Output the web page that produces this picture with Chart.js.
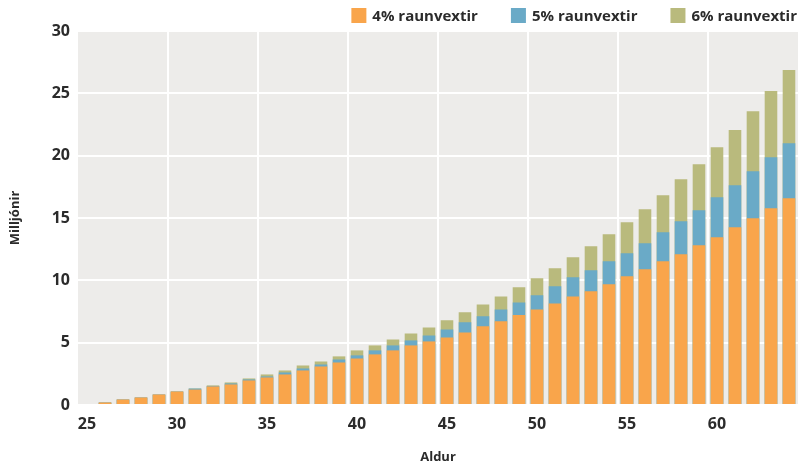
<!DOCTYPE html>
<html>
<head>
<meta charset="utf-8">
<script src="https://cdn.jsdelivr.net/npm/chart.js@4.4.1/dist/chart.umd.min.js"></script>
<style>
  html, body { margin: 0; padding: 0; background: #fff; }
  #wrap { width: 799px; height: 467px; }
</style>
</head>
<body>
<div id="wrap"><canvas id="savingsChart"></canvas></div>
<script>
// Ages on the x axis
var ages = [];
for (var a = 25; a <= 64; a++) ages.push(a);

// Accumulated savings in millions at each age, per real interest rate
var rate4 = [0, 0.2, 0.44, 0.6, 0.84, 1.08, 1.24, 1.49, 1.65, 1.97,
  2.21, 2.45, 2.77, 3.09, 3.41, 3.73, 4.06, 4.38, 4.78, 5.1,
  5.42, 5.82, 6.31, 6.71, 7.21, 7.67, 8.15, 8.71, 9.12, 9.68,
  10.32, 10.88, 11.53, 12.09, 12.81, 13.45, 14.26, 14.98, 15.78, 16.59];
var rate5 = [0, 0.2, 0.44, 0.6, 0.84, 1.08, 1.32, 1.53, 1.73, 2.05,
  2.29, 2.61, 2.93, 3.25, 3.65, 3.98, 4.38, 4.78, 5.18, 5.58,
  6.06, 6.63, 7.11, 7.67, 8.23, 8.8, 9.52, 10.24, 10.8, 11.53,
  12.17, 12.97, 13.86, 14.74, 15.62, 16.67, 17.63, 18.76, 19.88, 21.0];
var rate6 = [0, 0.2, 0.44, 0.6, 0.84, 1.08, 1.32, 1.57, 1.81, 2.13,
  2.45, 2.77, 3.17, 3.49, 3.9, 4.38, 4.78, 5.26, 5.74, 6.22,
  6.79, 7.43, 8.07, 8.71, 9.44, 10.16, 10.96, 11.85, 12.73, 13.69,
  14.66, 15.7, 16.83, 18.11, 19.32, 20.68, 22.05, 23.57, 25.18, 26.87];

var seriesLabels = ["4% raunvextir", "5% raunvextir", "6% raunvextir"];
var yTicks = [0, 5, 10, 15, 20, 25, 30];

var fontFamily = "'Open Sans', 'Noto Sans', sans-serif";
var textColor = "#2b2b2b";

// grey panel behind the bars
var plotBackground = {
  id: "plotBackground",
  beforeDraw: function (chart) {
    var c = chart.ctx, area = chart.chartArea;
    c.save();
    c.fillStyle = "#edecea";
    c.fillRect(area.left, area.top, area.right - area.left, area.bottom - area.top);
    c.restore();
  }
};

// legend row in the top right corner, laid out right to left
var topLegend = {
  id: "topLegend",
  afterDraw: function (chart) {
    var c = chart.ctx;
    var sets = chart.data.datasets;
    var box = 15, gap = 6, spacing = 33, y = 8;
    var x = chart.width - 2;
    c.save();
    c.font = "bold 15px " + fontFamily;
    c.textBaseline = "middle";
    c.textAlign = "left";
    for (var i = sets.length - 1; i >= 0; i--) {
      var w = c.measureText(sets[i].label).width;
      var tx = x - w;
      var bx = tx - gap - box;
      c.fillStyle = sets[i].backgroundColor;
      c.fillRect(bx, y, box, box);
      c.fillStyle = textColor;
      c.fillText(sets[i].label, tx, y + box / 2 + 1);
      x = bx - spacing;
    }
    c.restore();
  }
};

document.addEventListener("DOMContentLoaded", function () {
  var ctx = document.getElementById("savingsChart").getContext("2d");
  var savingsChart = new Chart(ctx, {
    type: "bar",
    data: {
      labels: ages,
      datasets: [
        { label: seriesLabels[0], data: rate4, backgroundColor: "#f9a54b" },
        { label: seriesLabels[1], data: rate5, backgroundColor: "#6aaac7" },
        { label: seriesLabels[2], data: rate6, backgroundColor: "#b9ba7d" }
      ]
    },
    options: {
      responsive: true,
      maintainAspectRatio: false,
      animation: false,
      layout: { padding: { top: 31, right: 1, left: 0, bottom: 0 } },
      datasets: {
        bar: { categoryPercentage: 1, barPercentage: 0.7 }
      },
      plugins: {
        legend: { display: false },
        tooltip: { enabled: false }
      },
      scales: {
        x: {
          stacked: true,
          afterFit: function (scale) { scale.height = 62; },
          grid: {
            offset: true,
            drawTicks: false,
            lineWidth: 2,
            color: function (c) {
              var i = c.index;
              return i > 0 && i < ages.length && ages[i] % 5 === 0 ? "#ffffff" : "rgba(0,0,0,0)";
            }
          },
          border: { display: false },
          ticks: {
            autoSkip: false,
            maxRotation: 0,
            padding: 10,
            color: textColor,
            font: { family: fontFamily, size: 16, weight: "bold" },
            callback: function (v, i) {
              return ages[i] % 5 === 0 ? String(ages[i]) : "";
            }
          },
          title: {
            display: true,
            text: "Aldur",
            color: textColor,
            padding: { top: 0, bottom: 2 },
            font: { family: fontFamily, size: 13, weight: "bold" }
          }
        },
        y: {
          stacked: false,
          min: 0,
          max: 30,
          afterFit: function (scale) { scale.width = 78; },
          afterBuildTicks: function (scale) {
            scale.ticks = yTicks.map(function (v) { return { value: v }; });
          },
          grid: { drawTicks: false, lineWidth: 2, color: "#ffffff" },
          border: { display: false },
          ticks: {
            padding: 8,
            color: textColor,
            font: { family: fontFamily, size: 16, weight: "bold" }
          },
          title: {
            display: true,
            text: "Milljónir",
            color: textColor,
            padding: { top: 7, bottom: 0 },
            font: { family: fontFamily, size: 13, weight: "bold" }
          }
        }
      }
    },
    plugins: [plotBackground, topLegend]
  });
});
</script>
</body>
</html>
